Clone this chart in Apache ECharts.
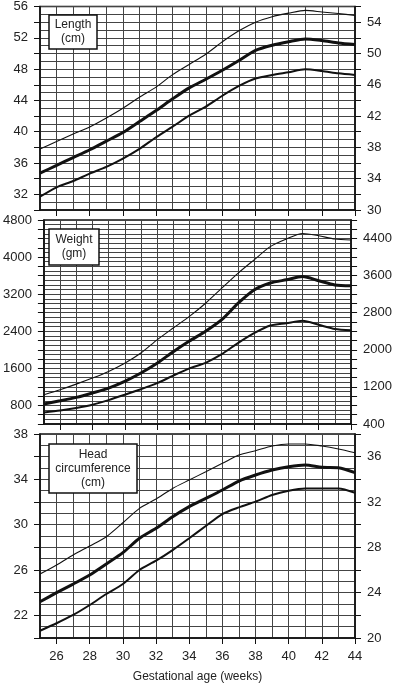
<!DOCTYPE html>
<html><head><meta charset="utf-8">
<script src="https://cdn.jsdelivr.net/npm/echarts@6/dist/echarts.min.js"></script>
<style>html,body{margin:0;padding:0;background:#fff}#c{width:395px;height:684px}</style>
</head><body><div id="c"></div>
<script>
const weeks = [25,26,27,28,29,30,31,32,33,34,35,36,37,38,39,40,41,42,43,44];
const xTickValues = [26,28,30,32,34,36,38,40,42,44];

const lengthP90 = [37.8,38.75,39.7,40.6,41.75,43.0,44.4,45.7,47.3,48.6,49.9,51.5,52.9,54.0,54.7,55.15,55.5,55.3,55.1,54.86];
const lengthP50 = [34.7,35.7,36.7,37.7,38.8,39.9,41.3,42.7,44.2,45.6,46.7,47.85,49.1,50.4,51.05,51.5,51.85,51.65,51.35,51.14];
const lengthP10 = [31.7,32.9,33.7,34.65,35.5,36.56,37.8,39.3,40.65,42.05,43.2,44.6,45.85,46.8,47.25,47.6,47.97,47.76,47.46,47.25];

const weightP90 = [1030,1140,1260,1390,1535,1710,1930,2215,2470,2720,3005,3330,3650,3940,4225,4390,4510,4460,4390,4370];
const weightP50 = [830,900,975,1070,1175,1320,1500,1710,1960,2190,2400,2650,3000,3290,3440,3510,3580,3490,3400,3380];
const weightP10 = [650,690,745,815,915,1030,1150,1280,1445,1600,1720,1905,2145,2360,2525,2575,2625,2540,2450,2420];

const headP90 = [25.64,26.44,27.32,28.12,28.94,30.17,31.44,32.26,33.2,33.94,34.67,35.41,36.15,36.53,36.94,37.12,37.12,36.94,36.68,36.35];
const headP50 = [23.2,24.0,24.76,25.56,26.53,27.53,28.8,29.68,30.7,31.59,32.32,33.06,33.85,34.38,34.82,35.11,35.26,35.06,35.03,34.59];
const headP10 = [20.64,21.3,22.03,22.91,23.88,24.76,26.0,26.82,27.76,28.8,29.88,30.94,31.53,32.03,32.62,33.0,33.2,33.2,33.2,32.82];

const panelTitles = [['Length','(cm)'],['Weight','(gm)'],['Head','circumference','(cm)']];
const xLabel = 'Gestational age (weeks)';

const panels = [
  {min:30, max:56, tick:2, labelStep:4, leftStart:32, rightStart:30, data:[lengthP90,lengthP50,lengthP10]},
  {min:400, max:4800, tick:200, labelStep:800, leftStart:800, rightStart:400, data:[weightP90,weightP50,weightP10]},
  {min:20, max:38, tick:2, labelStep:4, leftStart:22, rightStart:20, data:[headP90,headP50,headP10]}
];

const FONT = 'Liberation Sans, Arial, sans-serif';
const INK = '#111';
const GRIDC = '#444';
const layout = [{top:5,height:205},{top:220,height:204},{top:434,height:204}];
const boxes = [{x:49,y:15,w:48,h:34},{x:49,y:229,w:50,h:36},{x:49,y:444,w:88,h:49}];

const grid=[], xAxis=[], yAxis=[], series=[], graphic=[];
panels.forEach((p,i)=>{
  grid.push({left:40, right:40, top:layout[i].top, height:layout[i].height, show:true, borderColor:INK, borderWidth:1.5, backgroundColor:'#fff'});
  xAxis.push({type:'value', gridIndex:i, min:25, max:44, interval:1, position:'bottom',
    axisLine:{show:false}, axisTick:{show:false}, axisLabel:{show:false},
    splitLine:{show:true, lineStyle:{color:GRIDC, width:1}}});
  xAxis.push({type:'value', gridIndex:i, min:25, max:44, position:'bottom',
    name: i===2 ? xLabel : '', nameLocation:'middle', nameGap:33,
    nameTextStyle:{fontFamily:FONT, fontSize:12, color:'#222'},
    axisLine:{show:true, onZero:false, lineStyle:{color:INK, width:1.5}},
    axisTick:{show:true, length:6, lineStyle:{color:INK}, customValues:xTickValues},
    axisLabel:{show:i===2, customValues:xTickValues, margin:12, fontFamily:FONT, fontSize:13, color:'#222'},
    splitLine:{show:false}});
  const mk = (pos, start)=>({type:'value', gridIndex:i, position:pos, min:p.min, max:p.max, interval:p.tick,
    axisLine:{show:true, onZero:false, lineStyle:{color:INK, width:1.5}},
    axisTick:{show:true, length:6, lineStyle:{color:INK}},
    axisLabel:{margin:12, fontFamily:FONT, fontSize:13, color:'#222',
      formatter:v=> (Math.round(v-start) % p.labelStep === 0) ? String(v) : ''},
    splitLine:{show: pos==='left', lineStyle:{color:GRIDC, width:1}},
    minorTick:{show:false, splitNumber:2},
    minorSplitLine:{show: pos==='left', lineStyle:{color:GRIDC, width:1}}});
  yAxis.push(mk('left', p.leftStart));
  yAxis.push(mk('right', p.rightStart));
  const widths=[1.1,3,2];
  p.data.forEach((arr,k)=>{
    series.push({type:'line', xAxisIndex:i*2, yAxisIndex:i*2, showSymbol:false, smooth:0.25,
      data: weeks.map((w,j)=>[w,arr[j]]), lineStyle:{color:INK, width:widths[k]}, z:5, silent:true});
  });
  const b = boxes[i];
  graphic.push({type:'rect', z:100, shape:{x:b.x, y:b.y, width:b.w, height:b.h},
    style:{fill:'#fff', stroke:INK, lineWidth:1.5}});
  const lines = panelTitles[i];
  const lh = 14;
  const y0 = b.y + b.h/2 - (lines.length-1)*lh/2;
  lines.forEach((t,k)=>{
    graphic.push({type:'text', z:101, x:b.x + b.w/2, y:y0 + k*lh,
      style:{text:t, fontFamily:FONT, fontSize:12, fill:'#222', align:'center', textAlign:'center', verticalAlign:'middle', textVerticalAlign:'middle'}});
  });
});

const chart = echarts.init(document.getElementById('c'), null, {renderer:'canvas'});
chart.setOption({animation:false, backgroundColor:'#fff', grid, xAxis, yAxis, series, graphic});
</script></body></html>
